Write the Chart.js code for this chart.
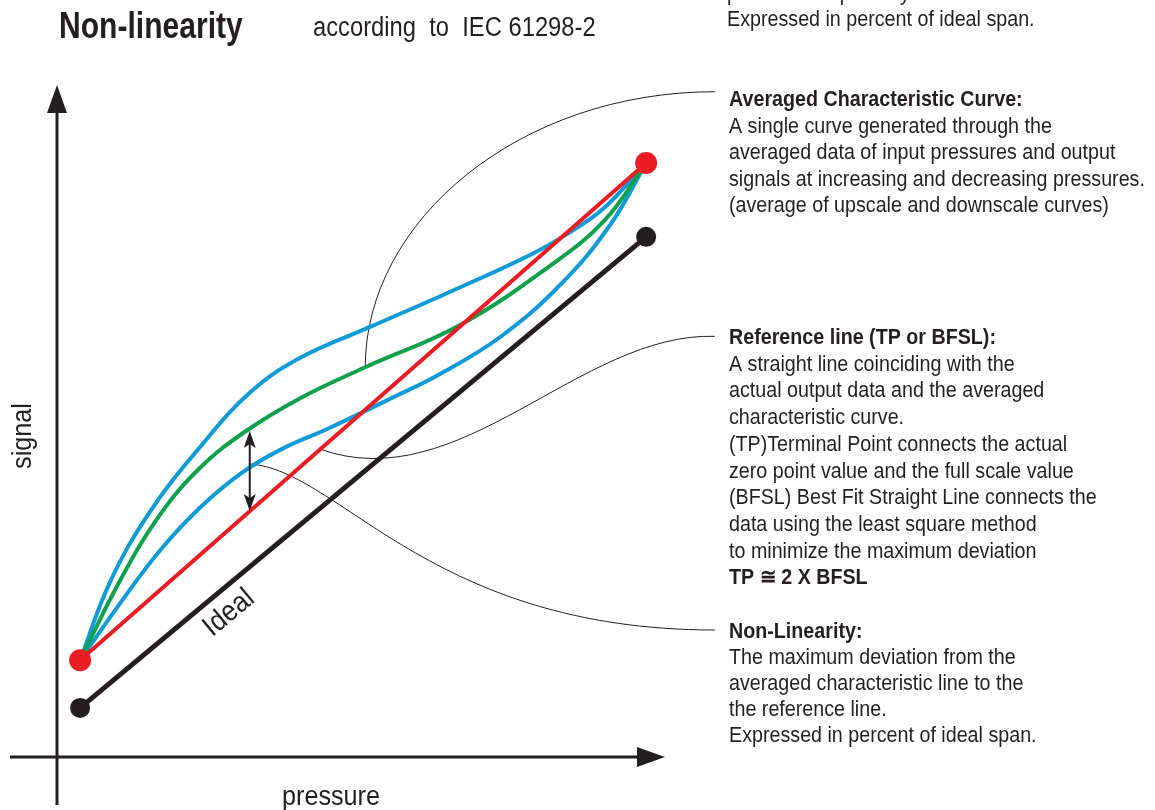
<!DOCTYPE html>
<html>
<head>
<meta charset="utf-8">
<script src="https://cdn.jsdelivr.net/npm/chart.js@4"></script>
<style>
  html, body { margin: 0; padding: 0; background: #fff; }
  #wrap { width: 1155px; height: 810px; }
</style>
</head>
<body>
<div id="wrap"><canvas id="nlChart" width="1155" height="810"></canvas></div>
<script>
// pressure (x) and signal (y), both in % of the drawing span
const upperX = [3.8, 8.7, 15.3, 23.5, 31.7, 40.0, 51.5, 64.6, 77.8, 84.4, 90.1, 96.9];
const upperY = [14.4, 26.0, 36.5, 46.1, 54.2, 59.4, 64.0, 69.2, 74.7, 78.1, 81.8, 88.4];

const avgX = [3.8, 10.4, 16.9, 23.5, 30.9, 40.0, 50.7, 66.3, 81.1, 90.1, 96.9];
const avgY = [14.4, 26.3, 36.0, 43.0, 48.4, 53.4, 58.0, 64.3, 73.1, 79.9, 88.4];

const lowerX = [3.8, 10.4, 16.9, 23.5, 30.1, 36.7, 44.9, 54.8, 63.0, 72.9, 82.7, 91.0, 96.9];
const lowerY = [14.4, 22.9, 30.7, 37.1, 42.1, 45.7, 49.0, 53.3, 57.0, 62.5, 70.2, 79.2, 88.4];

const refX = [3.8, 96.9];
const refY = [14.4, 88.4];
const idealX = [3.8, 96.9];
const idealY = [7.3, 77.4];

// non-linearity arrow: from averaged curve down to reference line
const devX = 31.7;
const devY = [48.5, 36.6];

// leader lines (start, control 1, control 2, end) in the same units
const leaderAvg = [[50.7, 58.0], [50.7, 79.9], [76.2, 99.0], [108.2, 99.0]];
const leaderRef = [[43.3, 45.8], [66.3, 38.4], [86.0, 63.2], [108.2, 62.6]];
const leaderNL = [[31.7, 43.6], [46.5, 42.7], [61.3, 18.9], [108.2, 18.9]];

const topNote = ['pressures separately.', 'Expressed in percent of ideal span.'];
const avgNote = ['Averaged Characteristic Curve:', 'A single curve generated through the',
  'averaged data of input pressures and output', 'signals at increasing and decreasing pressures.',
  '(average of upscale and downscale curves)'];
const refNote = ['Reference line (TP or BFSL):', 'A straight line coinciding with the',
  'actual output data and the averaged', 'characteristic curve.',
  '(TP)Terminal Point connects the actual', 'zero point value and the full scale value',
  '(BFSL) Best Fit Straight Line connects the', 'data using the least square method',
  'to minimize the maximum deviation', 'TP \u2245 2 X BFSL'];
const nlNote = ['Non-Linearity:', 'The maximum deviation from the',
  'averaged characteristic line to the', 'the reference line.', 'Expressed in percent of ideal span.'];

const BLUE = '#0f9bd7';
const GREEN = '#0ea04b';
const RED = '#ec1c24';
const BLACK = '#231f20';
const FONT = "'Liberation Sans', Arial, sans-serif";

function pts(xs, ys) {
  return xs.map((x, i) => ({ x: x, y: ys[i] }));
}

// Arial Narrow look: regular sans squeezed horizontally
function narrowText(ctx, t, x, y, size, bold, align, squeeze) {
  ctx.save();
  ctx.translate(x, y);
  ctx.scale(squeeze || 0.895, 1);
  ctx.font = (bold ? 'bold ' : '') + size + 'px ' + FONT;
  ctx.textAlign = align || 'left';
  ctx.fillText(t, 0, 0);
  ctx.restore();
}

function textBlock(ctx, lines, x, y, lh, boldLast) {
  lines.forEach((t, i) => {
    const bold = i === 0 || (boldLast && i === lines.length - 1);
    narrowText(ctx, t, x, y + i * lh, 22, bold);
  });
}

const decor = {
  id: 'decor',
  beforeDatasetsDraw(chart) {
    const ctx = chart.ctx;
    const sx = chart.scales.x, sy = chart.scales.y;
    const a = chart.chartArea;
    ctx.save();
    ctx.strokeStyle = BLACK;
    ctx.fillStyle = BLACK;
    ctx.lineWidth = 3;
    // axes
    ctx.beginPath();
    ctx.moveTo(a.left, 805);
    ctx.lineTo(a.left, a.top + 20);
    ctx.moveTo(10, a.bottom);
    ctx.lineTo(a.right - 20, a.bottom);
    ctx.stroke();
    ctx.beginPath();
    ctx.moveTo(a.left, a.top);
    ctx.lineTo(a.left - 10, a.top + 28);
    ctx.lineTo(a.left + 10, a.top + 28);
    ctx.closePath();
    ctx.fill();
    ctx.beginPath();
    ctx.moveTo(a.right, a.bottom);
    ctx.lineTo(a.right - 28, a.bottom - 10);
    ctx.lineTo(a.right - 28, a.bottom + 10);
    ctx.closePath();
    ctx.fill();

    // leader lines
    ctx.lineWidth = 1;
    [leaderAvg, leaderRef, leaderNL].forEach(p => {
      const q = p.map(v => [sx.getPixelForValue(v[0]), sy.getPixelForValue(v[1])]);
      ctx.beginPath();
      ctx.moveTo(q[0][0], q[0][1]);
      ctx.bezierCurveTo(q[1][0], q[1][1], q[2][0], q[2][1], q[3][0], q[3][1]);
      ctx.stroke();
    });
    ctx.restore();
  },
  afterDatasetsDraw(chart) {
    const ctx = chart.ctx;
    const sx = chart.scales.x, sy = chart.scales.y;
    ctx.save();
    ctx.strokeStyle = BLACK;
    ctx.fillStyle = BLACK;

    // double arrow for the deviation
    const ax = sx.getPixelForValue(devX);
    const y1 = sy.getPixelForValue(devY[0]);
    const y2 = sy.getPixelForValue(devY[1]);
    ctx.lineWidth = 2;
    ctx.beginPath();
    ctx.moveTo(ax, y1 + 10);
    ctx.lineTo(ax, y2 - 10);
    ctx.stroke();
    ctx.beginPath();
    ctx.moveTo(ax, y1);
    ctx.lineTo(ax - 6, y1 + 17);
    ctx.lineTo(ax, y1 + 13);
    ctx.lineTo(ax + 6, y1 + 17);
    ctx.closePath();
    ctx.fill();
    ctx.beginPath();
    ctx.moveTo(ax, y2);
    ctx.lineTo(ax - 6, y2 - 17);
    ctx.lineTo(ax, y2 - 13);
    ctx.lineTo(ax + 6, y2 - 17);
    ctx.closePath();
    ctx.fill();

    // titles
    ctx.textBaseline = 'middle';
    narrowText(ctx, 'Non-linearity', 59, 28, 36, true, 'left', 0.835);
    narrowText(ctx, 'according  to  IEC 61298-2', 313, 29, 27, false, 'left', 0.88);

    // axis titles
    narrowText(ctx, 'pressure', 331, 797, 28, false, 'center', 0.9);
    ctx.save();
    ctx.translate(23, 436);
    ctx.rotate(-Math.PI / 2);
    narrowText(ctx, 'signal', 0, 0, 28, false, 'center', 0.9);
    ctx.restore();

    // label along the ideal line
    const ix0 = sx.getPixelForValue(idealX[0]), iy0 = sy.getPixelForValue(idealY[0]);
    const ix1 = sx.getPixelForValue(idealX[1]), iy1 = sy.getPixelForValue(idealY[1]);
    ctx.save();
    ctx.translate(229, 613);
    ctx.rotate(Math.atan2(iy1 - iy0, ix1 - ix0));
    narrowText(ctx, 'Ideal', 0, 0, 29, false, 'center', 0.9);
    ctx.restore();

    // notes on the right
    narrowText(ctx, topNote[0], 727, -6, 22, false);
    narrowText(ctx, topNote[1], 727, 20, 22, false);
    textBlock(ctx, avgNote, 729, 100, 26.5, false);
    textBlock(ctx, refNote, 729, 338, 26.7, true);
    textBlock(ctx, nlNote, 729, 632, 26, false);
    ctx.restore();
  }
};

const ctx = document.getElementById('nlChart').getContext('2d');

new Chart(ctx, {
  type: 'scatter',
  data: {
    datasets: [
      { label: 'Reference line', data: pts(refX, refY), showLine: true, borderColor: RED,
        borderWidth: 4, pointRadius: 11, pointBackgroundColor: RED, pointBorderWidth: 0, order: 1 },
      { label: 'Ideal', data: pts(idealX, idealY), showLine: true, borderColor: BLACK,
        borderWidth: 5, pointRadius: 10, pointBackgroundColor: BLACK, pointBorderWidth: 0, order: 2 },
      { label: 'Averaged', data: pts(avgX, avgY), showLine: true, borderColor: GREEN,
        borderWidth: 4, pointRadius: 0, tension: 0.4, order: 3 },
      { label: 'Upscale', data: pts(upperX, upperY), showLine: true, borderColor: BLUE,
        borderWidth: 4, pointRadius: 0, tension: 0.4, order: 4 },
      { label: 'Downscale', data: pts(lowerX, lowerY), showLine: true, borderColor: BLUE,
        borderWidth: 4, pointRadius: 0, tension: 0.4, order: 5 }
    ]
  },
  options: {
    responsive: false,
    animation: false,
    clip: false,
    layout: { padding: { left: 57, right: 490, top: 85, bottom: 53 } },
    scales: {
      x: { type: 'linear', min: 0, max: 100, display: false },
      y: { type: 'linear', min: 0, max: 100, display: false }
    },
    plugins: {
      legend: { display: false },
      tooltip: { enabled: false }
    }
  },
  plugins: [decor]
});
</script>
</body>
</html>
